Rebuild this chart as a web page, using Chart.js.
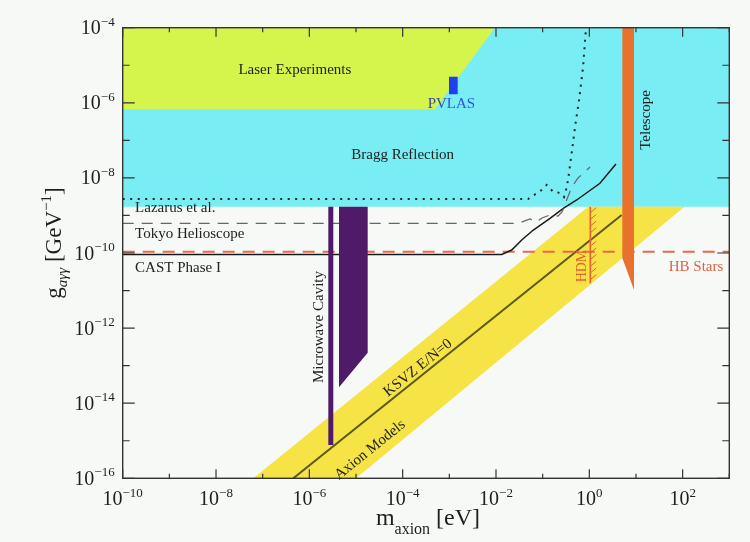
<!DOCTYPE html>
<html>
<head>
<meta charset="utf-8">
<script src="https://cdn.jsdelivr.net/npm/chart.js@4.4.1/dist/chart.umd.min.js"></script>
<style>
    html, body { margin: 0; padding: 0; background: #f6f9f6; }
</style>
</head>
<body>
<canvas id="axionChart" width="750" height="542"></canvas>
<script>
// axion mass [eV] and coupling g [GeV^-1]
const braggMass = [1e-10, 1e3, 1e3, 1e-10];
const braggCoupling = [1e-4, 1e-4, 1.71e-9, 1.71e-9];

const laserMass = [1e-10, 9.5e-3, 4.9e-4, 1e-10];
const laserCoupling = [1e-4, 1e-4, 6.7e-7, 6.7e-7];

const pvlasMass = [9.85e-4, 1.51e-3, 1.51e-3, 9.85e-4];
const pvlasCoupling = [4.96e-6, 4.96e-6, 1.68e-6, 1.68e-6];

const axionBandMass = [6.3e-8, 0.95, 110, 1e-5];
const axionBandCoupling = [1e-16, 1.71e-9, 1.71e-9, 1e-16];

const ksvzMass = [4.53e-7, 4.94];
const ksvzCoupling = [1e-16, 1.03e-9];

const cavityThinMass = [2.55e-6, 3.26e-6, 3.26e-6, 2.55e-6];
const cavityThinCoupling = [1.71e-9, 1.71e-9, 7.7e-16, 7.7e-16];
const cavityWideMass = [4.32e-6, 1.78e-5, 1.78e-5, 4.32e-6];
const cavityWideCoupling = [1.71e-9, 1.71e-9, 2.21e-13, 2.65e-14];

const telescopeMass = [5.1, 9.08, 9.08, 5.1];
const telescopeCoupling = [1e-4, 1e-4, 1.03e-11, 7.4e-11];

const hbMass = [1e-10, 1e3];
const hbCoupling = [1.08e-10, 1.08e-10];

const hdmMass = [1.05, 1.05];
const hdmCoupling = [1.71e-9, 1.56e-11];

const castMass = [1e-10, 0.0133, 0.0217, 0.0356, 0.0631, 0.144, 0.277, 0.537, 1.69, 3.73];
const castCoupling = [9.1e-11, 9.1e-11, 1.2e-10, 2.22e-10, 4.09e-10, 8.4e-10, 1.55e-9, 2.58e-9, 7.18e-9, 2.34e-8];

const tokyoMass = [1e-10, 0.0297, 0.0536, 0.0721, 0.097, 0.144, 0.214, 0.261, 0.42, 0.573, 1.035];
const tokyoCoupling = [6.18e-10, 6.18e-10, 8.04e-10, 6.7e-10, 8.55e-10, 1.03e-9, 9.66e-10, 1.24e-9, 5.73e-9, 9.93e-9, 1.95e-8];

const lazarusMass = [1e-10, 0.0485, 0.0955, 0.122, 0.167, 0.236, 0.287, 0.317, 0.35, 0.386, 0.427, 0.494, 0.603, 0.735, 0.851];
const lazarusCoupling = [2.74e-9, 2.74e-9, 4.76e-9, 6.47e-9, 4.3e-9, 3.96e-9, 3.1e-9, 4.76e-9, 8.8e-9, 2.2e-8, 5.5e-8, 2.27e-7, 1.19e-6, 8.97e-6, 1e-4];

const massTickPowers = [-10, -8, -6, -4, -2, 0, 2];
const couplingTickPowers = [-4, -6, -8, -10, -12, -14, -16];

const SERIF = '"Liberation Serif", "DejaVu Serif", serif';

const toPoints = (xs, ys) => xs.map((x, i) => ({ x: x, y: ys[i] }));

const area = (xs, ys, color) => ({
    data: toPoints(xs, ys),
    showLine: true,
    fill: 'shape',
    backgroundColor: color,
    borderWidth: 0,
    pointRadius: 0
});

const curve = (xs, ys, color, width, dash) => ({
    data: toPoints(xs, ys),
    showLine: true,
    fill: false,
    borderColor: color,
    borderWidth: width,
    borderDash: dash || [],
    pointRadius: 0
});

const drawPower = (ctx, exp, xPos, yPos, align) => {
    const sup = exp < 0 ? '\u2212' + Math.abs(exp) : String(exp);
    ctx.font = '20px ' + SERIF;
    const wb = ctx.measureText('10').width;
    ctx.font = '13px ' + SERIF;
    const ws = ctx.measureText(sup).width;
    const left = align === 'right' ? xPos - wb - ws : xPos - (wb + ws) / 2;
    ctx.textAlign = 'left';
    ctx.textBaseline = 'alphabetic';
    ctx.font = '20px ' + SERIF;
    ctx.fillText('10', left, yPos);
    ctx.font = '13px ' + SERIF;
    ctx.fillText(sup, left + wb, yPos - 8.5);
};

// draws pieces [text, size, baseline shift, style] one after another, centred on 0
const drawPieces = (ctx, pieces) => {
    let total = 0;
    pieces.forEach(p => {
        ctx.font = (p[3] || '') + ' ' + p[1] + 'px ' + SERIF;
        p.w = ctx.measureText(p[0]).width;
        total += p.w;
    });
    let cur = -total / 2;
    ctx.textAlign = 'left';
    ctx.textBaseline = 'alphabetic';
    pieces.forEach(p => {
        ctx.font = (p[3] || '') + ' ' + p[1] + 'px ' + SERIF;
        ctx.fillText(p[0], cur, p[2]);
        cur += p.w;
    });
};

const decorations = {
    id: 'decorations',
    beforeDraw(chart) {
        const ctx = chart.ctx;
        ctx.save();
        ctx.fillStyle = '#f6f9f6';
        ctx.fillRect(0, 0, chart.width, chart.height);
        ctx.restore();
    },
    afterDatasetsDraw(chart) {
        const ctx = chart.ctx;
        const box = chart.chartArea;
        const xs = chart.scales.x;
        const ys = chart.scales.y;
        const px = m => xs.getPixelForValue(m);
        const py = g => ys.getPixelForValue(g);
        ctx.save();

        // HDM hatching
        const hx = px(hdmMass[0]);
        ctx.strokeStyle = '#e8622d';
        ctx.lineWidth = 1;
        for (let yy = py(hdmCoupling[0]) + 6; yy <= py(hdmCoupling[1]); yy += 6.7) {
            ctx.beginPath();
            ctx.moveTo(hx, yy);
            ctx.lineTo(hx + 6, yy - 5);
            ctx.stroke();
        }

        // frame
        ctx.strokeStyle = '#333';
        ctx.lineWidth = 1.4;
        ctx.strokeRect(box.left, box.top, box.right - box.left, box.bottom - box.top);

        // ticks, inward on all sides
        ctx.lineWidth = 1.2;
        ctx.beginPath();
        for (let p = -10; p <= 3; p++) {
            const x = px(Math.pow(10, p));
            const len = p % 2 === 0 ? 9 : 4.5;
            ctx.moveTo(x, box.bottom); ctx.lineTo(x, box.bottom - len);
            ctx.moveTo(x, box.top); ctx.lineTo(x, box.top + len);
        }
        for (let p = -16; p <= -4; p++) {
            const y = py(Math.pow(10, p));
            const len = p % 2 === 0 ? 12 : 7;
            ctx.moveTo(box.left, y); ctx.lineTo(box.left + len, y);
            ctx.moveTo(box.right, y); ctx.lineTo(box.right - len, y);
        }
        ctx.stroke();

        // tick labels
        ctx.fillStyle = '#1e1e1e';
        massTickPowers.forEach(p => drawPower(ctx, p, px(Math.pow(10, p)), box.bottom + 27, 'center'));
        couplingTickPowers.forEach(p => drawPower(ctx, p, box.left - 8, py(Math.pow(10, p)) + 6.5, 'right'));

        // axis titles
        ctx.save();
        ctx.translate((box.left + box.right) / 2 + 2, box.bottom + 47);
        drawPieces(ctx, [['m', 24, 0], ['axion', 16, 9], [' [eV]', 24, 0]]);
        ctx.restore();

        ctx.save();
        ctx.translate(61, 243);
        ctx.rotate(-Math.PI / 2);
        drawPieces(ctx, [['g', 23, 0], ['a\u03b3\u03b3', 15, 6, 'italic'], [' [GeV', 23, 0], ['\u22121', 15, -10], [']', 23, 0]]);
        ctx.restore();

        // region labels
        const label = (text, m, g, opts) => {
            const o = opts || {};
            ctx.save();
            ctx.translate(px(m), py(g));
            ctx.rotate(o.angle || 0);
            ctx.font = (o.size || 15) + 'px ' + SERIF;
            ctx.fillStyle = o.color || '#222';
            ctx.textAlign = o.align || 'center';
            ctx.textBaseline = 'middle';
            ctx.fillText(text, 0, 0);
            ctx.restore();
        };
        const slope = -Math.atan(37.55 / 46.66);
        label('Laser Experiments', 4.9e-7, 7.5e-6);
        label('Bragg Reflection', 1.0e-4, 4.07e-8);
        label('Lazarus et al.', 1.84e-10, 1.56e-9, { align: 'left' });
        label('Tokyo Helioscope', 1.84e-10, 3.2e-10, { align: 'left' });
        label('CAST Phase I', 1.84e-10, 4.0e-11, { align: 'left' });
        label('Microwave Cavity', 1.61e-6, 1.07e-12, { angle: -Math.PI / 2 });
        label('Telescope', 16.2, 3.5e-7, { angle: -Math.PI / 2 });
        label('HDM', 0.71, 4.5e-11, { angle: -Math.PI / 2, size: 14, color: '#e8622d' });
        label('HB Stars', 194, 4.3e-11, { color: '#e0604a' });
        label('KSVZ E/N=0', 2.13e-4, 8.65e-14, { angle: slope });
        label('Axion Models', 2.0e-5, 5.7e-16, { angle: slope });

        // PVLAS in two tones
        ctx.font = '15px ' + SERIF;
        ctx.textBaseline = 'middle';
        ctx.textAlign = 'left';
        const wPV = ctx.measureText('PV').width;
        const wAll = ctx.measureText('PVLAS').width;
        const lx = px(1.11e-3) - wAll / 2;
        const ly = py(9.1e-7);
        ctx.fillStyle = '#3a4a9a';
        ctx.fillText('PV', lx, ly);
        ctx.fillStyle = '#2a56e2';
        ctx.fillText('LAS', lx + wPV, ly);

        ctx.restore();
    }
};

// first dataset is drawn on top
const datasets = [
    area(telescopeMass, telescopeCoupling, '#e8722d'),
    curve(hdmMass, hdmCoupling, '#e8622d', 1.6),
    area(cavityThinMass, cavityThinCoupling, '#4f1b69'),
    area(cavityWideMass, cavityWideCoupling, '#4f1b69'),
    curve(lazarusMass, lazarusCoupling, '#222', 2, [2, 5.5]),
    curve(tokyoMass, tokyoCoupling, '#666', 1.2, [11, 8]),
    curve(castMass, castCoupling, '#1a1a1a', 1.5),
    curve(hbMass, hbCoupling, '#e56a4c', 2, [12, 8]),
    curve(ksvzMass, ksvzCoupling, '#5b5a1c', 2),
    area(axionBandMass, axionBandCoupling, '#f6e446'),
    area(pvlasMass, pvlasCoupling, '#1e40f0'),
    area(laserMass, laserCoupling, '#d5f54c'),
    area(braggMass, braggCoupling, '#78eef4')
];

new Chart(document.getElementById('axionChart').getContext('2d'), {
    type: 'scatter',
    data: { datasets: datasets },
    options: {
        responsive: false,
        devicePixelRatio: 1,
        animation: false,
        layout: { padding: { left: 122.7, right: 20.7, top: 27.7, bottom: 63.7 } },
        scales: {
            x: { type: 'logarithmic', min: 1e-10, max: 1e3, display: false },
            y: { type: 'logarithmic', min: 1e-16, max: 1e-4, display: false }
        },
        plugins: {
            legend: { display: false },
            tooltip: { enabled: false }
        }
    },
    plugins: [decorations]
});
</script>
</body>
</html>
